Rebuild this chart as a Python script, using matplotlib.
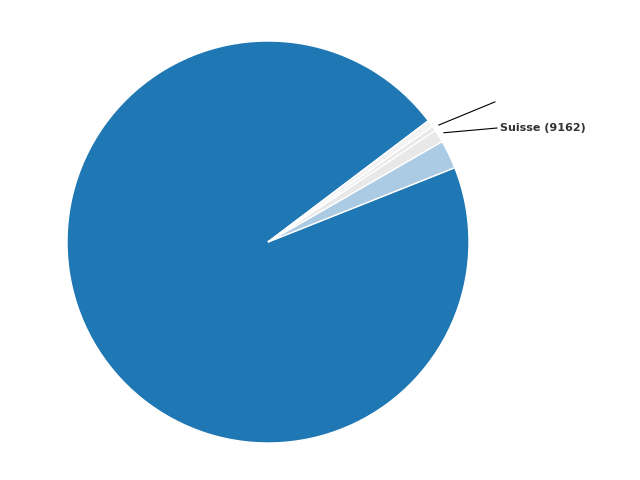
import matplotlib.pyplot as plt
import numpy as np

labels = ["", "", "Suisse", "", ""]
values = [853300, 20550, 9162, 3470, 4950]
colors = ["#1f77b4", "#aacbe3", "#e8e8e8", "#e8e8e8", "#f3f3f3"]
annotated = [2, 3]  # which slices get a leader line
label_pos = {2: (1.139, 0.567), 3: (1.129, 0.697)}

fig = plt.figure(figsize=(6.4, 4.8), dpi=100)
ax = fig.add_axes([0, 0, 1, 1])

wedges, _ = ax.pie(values, colors=colors, startangle=37.1, counterclock=True,
                   wedgeprops=dict(edgecolor="white", linewidth=1))

for i in annotated:
    w = wedges[i]
    mid = np.deg2rad((w.theta1 + w.theta2) / 2)
    x0, y0 = 1.03 * np.cos(mid), 1.03 * np.sin(mid)
    x1, y1 = label_pos[i]
    ax.plot([x0, x1], [y0, y1], color="black", lw=0.8)
    txt = f"{labels[i]} ({values[i]})" if labels[i] else ""
    ax.text(x1 + 0.015, y1, txt, ha="left", va="center", fontsize=8,
            fontweight="bold", color="#333333")

ax.set_xlim(-268 / 201, 372 / 201)
ax.set_ylim(-238 / 201, 242 / 201)
ax.set_aspect("auto")
ax.axis("off")

fig.savefig("out.png", dpi=100)
